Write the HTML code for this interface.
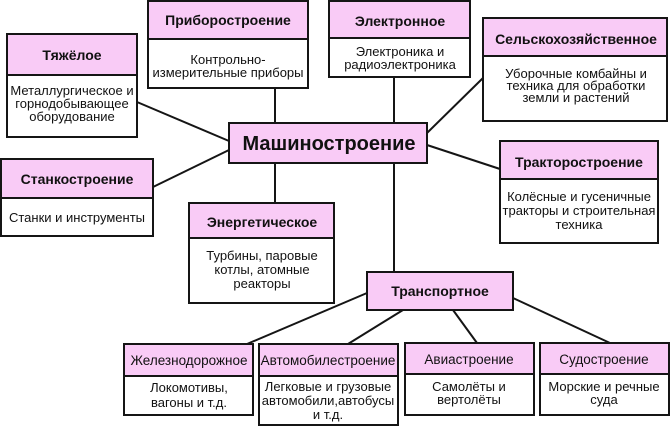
<!DOCTYPE html>
<html><head><meta charset="utf-8"><style>
html,body{margin:0;padding:0;background:#fff;}
svg{display:block;}
text{font-family:"Liberation Sans","DejaVu Sans",sans-serif;fill:#111;text-anchor:middle;}
.t{font-weight:bold;font-size:14px;}
.b{font-size:13px;}
.h{font-size:13.5px;}
</style></head><body>
<svg width="671" height="427" viewBox="0 0 671 427" xmlns="http://www.w3.org/2000/svg">
<g stroke="#151515" stroke-width="2" fill="none">
<line x1="275" y1="88" x2="275" y2="123"/>
<line x1="394" y1="77" x2="394" y2="123"/>
<line x1="483" y1="78" x2="427" y2="133"/>
<line x1="137" y1="102" x2="229" y2="141"/>
<line x1="153" y1="187" x2="229" y2="150"/>
<line x1="427" y1="145" x2="500" y2="169"/>
<line x1="275" y1="163" x2="275" y2="203"/>
<line x1="394" y1="163" x2="394" y2="272"/>
<line x1="367" y1="293" x2="247" y2="344"/>
<line x1="403" y1="310" x2="348" y2="344"/>
<line x1="453" y1="310" x2="477" y2="343"/>
<line x1="513" y1="298" x2="610" y2="343"/>
</g>
<g stroke="#151515" stroke-width="2">
<!-- Тяжёлое -->
<rect x="7" y="34" width="130" height="103" fill="#fff"/>
<rect x="7" y="34" width="130" height="41" fill="#f9cbf6"/>
<!-- Приборостроение -->
<rect x="148" y="1" width="160" height="87" fill="#fff"/>
<rect x="148" y="1" width="160" height="38" fill="#f9cbf6"/>
<!-- Электронное -->
<rect x="329" y="1" width="141" height="76" fill="#fff"/>
<rect x="329" y="1" width="141" height="37" fill="#f9cbf6"/>
<!-- Сельскохозяйственное -->
<rect x="483" y="18" width="184" height="103" fill="#fff"/>
<rect x="483" y="18" width="184" height="38" fill="#f9cbf6"/>
<!-- Машиностроение -->
<rect x="229" y="123" width="198" height="40" fill="#f9cbf6"/>
<!-- Станкостроение -->
<rect x="1" y="159" width="152" height="77" fill="#fff"/>
<rect x="1" y="159" width="152" height="39" fill="#f9cbf6"/>
<!-- Энергетическое -->
<rect x="189" y="203" width="145" height="100" fill="#fff"/>
<rect x="189" y="203" width="145" height="35" fill="#f9cbf6"/>
<!-- Тракторостроение -->
<rect x="500" y="141" width="158" height="102" fill="#fff"/>
<rect x="500" y="141" width="158" height="38" fill="#f9cbf6"/>
<!-- Транспортное -->
<rect x="367" y="272" width="146" height="38" fill="#f9cbf6"/>
<!-- Железнодорожное -->
<rect x="124" y="344" width="129" height="71" fill="#fff"/>
<rect x="124" y="344" width="129" height="32" fill="#f9cbf6"/>
<!-- Автомобилестроение -->
<rect x="259" y="344" width="139" height="81" fill="#fff"/>
<rect x="259" y="344" width="139" height="32" fill="#f9cbf6"/>
<!-- Авиастроение -->
<rect x="405" y="343" width="129" height="72" fill="#fff"/>
<rect x="405" y="343" width="129" height="31" fill="#f9cbf6"/>
<!-- Судостроение -->
<rect x="540" y="343" width="129" height="72" fill="#fff"/>
<rect x="540" y="343" width="129" height="31" fill="#f9cbf6"/>
</g>

<text class="t" x="72" y="60">Тяжёлое</text>
<text class="b" x="72" y="95">Металлургическое и</text>
<text class="b" x="72" y="108">горнодобывающее</text>
<text class="b" x="72" y="121">оборудование</text>

<text class="t" x="228" y="25">Приборостроение</text>
<text class="b" x="228" y="64">Контрольно-</text>
<text class="b" x="228" y="77">измерительные приборы</text>

<text class="t" x="400" y="26">Электронное</text>
<text class="b" x="400" y="56">Электроника и</text>
<text class="b" x="400" y="69">радиоэлектроника</text>

<text class="t" x="576" y="44">Сельскохозяйственное</text>
<text class="b" x="576" y="78">Уборочные комбайны и</text>
<text class="b" x="576" y="90">техника для обработки</text>
<text class="b" x="576" y="102">земли и растений</text>

<text x="329" y="150" style="font-weight:bold;font-size:20px;">Машиностроение</text>

<text class="t" x="77" y="184">Станкостроение</text>
<text class="b" x="77" y="222">Станки и инструменты</text>

<text class="t" x="262" y="227">Энергетическое</text>
<text class="b" x="262" y="260">Турбины, паровые</text>
<text class="b" x="262" y="274">котлы, атомные</text>
<text class="b" x="262" y="288">реакторы</text>

<text class="t" x="579" y="167">Тракторостроение</text>
<text class="b" x="579" y="201">Колёсные и гусеничные</text>
<text class="b" x="579" y="215">тракторы и строительная</text>
<text class="b" x="579" y="229">техника</text>

<text class="t" x="440" y="296">Транспортное</text>

<text class="h" x="189" y="365">Железнодорожное</text>
<text class="b" x="189" y="392">Локомотивы,</text>
<text class="b" x="189" y="407">вагоны и т.д.</text>

<text class="h" x="328" y="365">Автомобилестроение</text>
<text class="b" x="328" y="391">Легковые и грузовые</text>
<text class="b" x="328" y="405">автомобили,автобусы</text>
<text class="b" x="328" y="419">и т.д.</text>

<text class="h" x="469" y="364">Авиастроение</text>
<text class="b" x="469" y="391">Самолёты и</text>
<text class="b" x="469" y="404">вертолёты</text>

<text class="h" x="604" y="364">Судостроение</text>
<text class="b" x="604" y="391">Морские и речные</text>
<text class="b" x="604" y="404">суда</text>
</svg>
</body></html>
